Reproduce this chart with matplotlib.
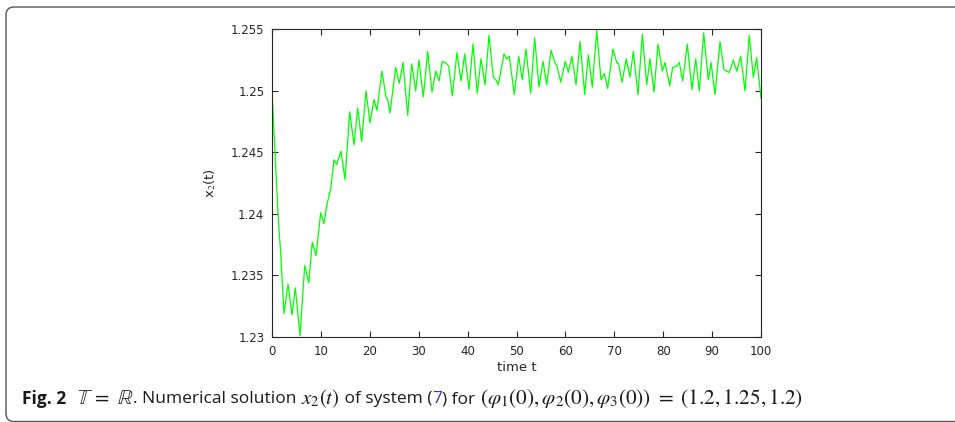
import matplotlib
matplotlib.use("Agg")
import matplotlib.pyplot as plt
from matplotlib.patches import FancyBboxPatch

# ---- data ----
t = [0, 1.29, 1.78, 2.45, 3.27, 4.09, 4.76, 5.73, 6.69, 7.51, 8.24, 9.0, 9.96, 10.63, 11.19,
     12.0, 12.68, 13.23, 14.11, 14.93, 15.89, 16.77, 17.53, 18.34, 19.22, 20.04, 20.86, 21.47,
     22.49, 23.31, 23.66, 24.13, 25.3, 26.03, 26.79, 27.75, 28.57, 29.39, 30.06, 30.94, 31.84,
     32.72, 33.48, 34.15, 34.83, 35.73, 36.13, 36.87, 37.83, 38.65, 39.41, 40.29, 41.1, 41.98,
     42.74, 43.56, 44.38, 45.26, 45.75, 46.28, 47.44, 48.0, 48.53, 49.55, 50.45, 51.19, 51.94,
     52.9, 53.72, 54.6, 55.42, 56.18, 57.06, 57.93, 58.22, 59.04, 59.98, 60.59, 61.35, 62.17,
     62.99, 63.95, 64.68, 65.5, 66.4, 67.28, 67.95, 68.65, 69.73, 70.49, 70.9, 71.57, 72.45,
     73.21, 73.89, 74.85, 75.73, 76.63, 77.3, 78.12, 78.94, 79.82, 80.37, 81.33, 81.94, 82.76,
     83.29, 83.99, 84.93, 85.89, 86.65, 87.38, 88.28, 89.22, 89.78, 90.59, 91.62, 92.43, 92.99,
     93.52, 94.34, 95.03, 95.85, 96.73, 97.61, 98.43, 99.12, 100]
x2 = [1.2500, 1.2395, 1.2368, 1.2319, 1.2343, 1.2318, 1.2340, 1.2301, 1.2358, 1.2344, 1.2377,
      1.2366, 1.2401, 1.2392, 1.2407, 1.2420, 1.2444, 1.2440, 1.2451, 1.2428, 1.2483, 1.2456,
      1.2486, 1.2459, 1.2500, 1.2474, 1.2493, 1.2484, 1.2516, 1.2495, 1.2493, 1.2482, 1.2519,
      1.2506, 1.2523, 1.2480, 1.2522, 1.2500, 1.2525, 1.2495, 1.2532, 1.2499, 1.2516, 1.2508,
      1.2524, 1.2522, 1.2520, 1.2496, 1.2531, 1.2508, 1.2530, 1.2501, 1.2538, 1.2498, 1.2526,
      1.2505, 1.2545, 1.2511, 1.2509, 1.2505, 1.2530, 1.2526, 1.2528, 1.2497, 1.2528, 1.2509,
      1.2534, 1.2498, 1.2543, 1.2503, 1.2524, 1.2505, 1.2533, 1.2522, 1.2521, 1.2507, 1.2524,
      1.2515, 1.2528, 1.2505, 1.2540, 1.2497, 1.2529, 1.2503, 1.2549, 1.2509, 1.2514, 1.2502,
      1.2534, 1.2523, 1.2522, 1.2507, 1.2526, 1.2511, 1.2532, 1.2497, 1.2546, 1.2505, 1.2526,
      1.2499, 1.2538, 1.2516, 1.2523, 1.2504, 1.2519, 1.2520, 1.2523, 1.2508, 1.2538, 1.2501,
      1.2526, 1.2500, 1.2547, 1.2509, 1.2523, 1.2497, 1.2540, 1.2517, 1.2516, 1.2515, 1.2525,
      1.2516, 1.2528, 1.2500, 1.2545, 1.2511, 1.2527, 1.2494]
xticks = [0, 10, 20, 30, 40, 50, 60, 70, 80, 90, 100]
yticks = [1.23, 1.235, 1.24, 1.245, 1.25, 1.255]
ytick_labels = ["1.23", "1.235", "1.24", "1.245", "1.25", "1.255"]

W, H, DPI = 955, 422, 100
plt.rcParams["mathtext.fontset"] = "stix"
fig = plt.figure(figsize=(W / DPI, H / DPI), dpi=DPI)

# background / frame axes in pixel coordinates
bg = fig.add_axes([0, 0, 1, 1], zorder=0)
bg.set_xlim(0, W)
bg.set_ylim(H, 0)
bg.axis("off")
frame = FancyBboxPatch((6, 7), 1000, 414.5, boxstyle="round,pad=0,rounding_size=8",
                       fill=False, ec="#555555", lw=1.0)
bg.add_patch(frame)

# main axes
ax = fig.add_axes([272 / W, 1 - 337 / H, (761 - 272) / W, (337 - 29.3) / H], zorder=1)
ax.plot(t, x2, color="#00ff00", lw=0.9)
ax.set_xlim(0, 100)
ax.set_ylim(1.23, 1.255)
ax.set_xticks(xticks)
ax.set_yticks(yticks)
ax.set_yticklabels(ytick_labels)
ax.tick_params(direction="in", length=4, width=0.8, top=True, right=True,
               labelsize=8.5, colors="#262626")
ax.tick_params(axis="x", pad=6)
ax.tick_params(axis="y", pad=5.5)
for s in ax.spines.values():
    s.set_color("#262626")
    s.set_linewidth(0.8)
ax.set_xlabel("time t", fontsize=9.5, color="#262626", labelpad=2)
ax.set_ylabel("x$_2$(t)", fontsize=9.5, color="#262626", labelpad=9)
for lab in ax.get_xticklabels() + ax.get_yticklabels():
    lab.set_fontfamily("DejaVu Sans")

# caption built from consecutive pieces
fig.canvas.draw()
renderer = fig.canvas.get_renderer()
pieces = [
    ("Fig. 2", "bold", "#1a1a1a", 12.5, 11),
    (r"$\mathbb{T}\ =\ \mathbb{R}$", "normal", "#1a1a1a", 15, 0),
    (". Numerical solution ", "normal", "#1a1a1a", 12.5, 0),
    (r"$x_2(t)$", "normal", "#1a1a1a", 15, 0),
    (" of system (", "normal", "#1a1a1a", 12.5, 0),
    ("7", "normal", "#3333dd", 12.5, 0),
    (") for ", "normal", "#1a1a1a", 12.5, 0),
    (r"$(\varphi_1(0), \varphi_2(0), \varphi_3(0))\ =\ (1.2, 1.25, 1.2)$", "normal", "#1a1a1a", 15.3, 0),
]
xpos = 22.0
for txt, weight, col, fs, gap in pieces:
    tx = bg.text(xpos, 399, txt, fontsize=fs, fontweight=weight, color=col,
                 family="Open Sans", va="center", ha="left")
    bb = tx.get_window_extent(renderer=renderer)
    xpos += bb.width * (W / fig.bbox.width) + gap

fig.savefig("out.png", dpi=DPI)
